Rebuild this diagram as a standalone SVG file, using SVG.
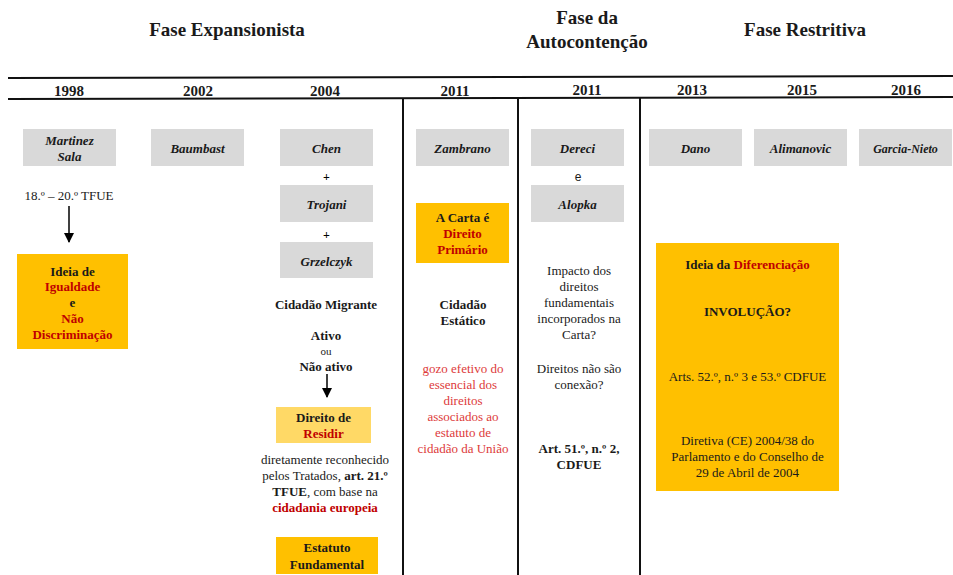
<svg xmlns="http://www.w3.org/2000/svg" width="953" height="575" viewBox="0 0 953 575">
<style>
text{font-family:"Liberation Serif","Times New Roman",serif;fill:#1a1a1a;text-anchor:middle}
.h{font-size:19px;font-weight:bold}
.y{font-size:15px;font-weight:bold}
.case{font-size:13px;font-weight:bold;font-style:italic}
.n{font-size:13px}
.b{font-size:13px;font-weight:bold}
.s{font-size:11px}
.p{font-size:12px;font-weight:bold;fill:#000}
.r{fill:#c00000}
.lr{fill:#dd3a3a}
.gray{fill:#d9d9d9}
.or{fill:#ffc000}
.lo{fill:#ffd966}
.ln{stroke:#111;stroke-width:2;fill:none}
</style>
<defs>
<marker id="ah" viewBox="0 0 10 10" refX="9" refY="5" markerWidth="10" markerHeight="10" markerUnits="userSpaceOnUse" orient="auto">
<path d="M0,0 L10,5 L0,10 z" fill="#000"/>
</marker>
</defs>
<rect width="953" height="575" fill="#fff"/>

<g id="headers">
<text class="h" x="227" y="36">Fase Expansionista</text>
<text class="h" x="587" y="24">Fase da</text>
<text class="h" x="587" y="48">Autocontenção</text>
<text class="h" x="805" y="36">Fase Restritiva</text>
</g>

<g id="connectors">
<line class="ln" x1="8" y1="78" x2="953" y2="76"/>
<line class="ln" x1="8" y1="99" x2="953" y2="97"/>
<line class="ln" x1="403" y1="98" x2="403" y2="575"/>
<line class="ln" x1="518" y1="98" x2="518" y2="575"/>
<line class="ln" x1="640" y1="97" x2="640" y2="575"/>
<line x1="69" y1="206" x2="69" y2="242" stroke="#000" stroke-width="1.5" marker-end="url(#ah)"/>
<line x1="327" y1="374" x2="327" y2="397" stroke="#000" stroke-width="1.5" marker-end="url(#ah)"/>
</g>

<g id="years">
<text class="y" x="69" y="96">1998</text>
<text class="y" x="198" y="96">2002</text>
<text class="y" x="325" y="96">2004</text>
<text class="y" x="455" y="96">2011</text>
<text class="y" x="587" y="95">2011</text>
<text class="y" x="692" y="95">2013</text>
<text class="y" x="802" y="95">2015</text>
<text class="y" x="906" y="95">2016</text>
</g>

<g id="martinez-sala">
<rect class="gray" x="23" y="129" width="93" height="37"/>
<text class="case" x="69.5" y="145">Martinez</text>
<text class="case" x="69.5" y="161">Sala</text>
</g>
<g id="tfue-18-20">
<text class="n" x="69" y="200">18.º – 20.º TFUE</text>
</g>
<g id="igualdade">
<rect class="or" x="17" y="254" width="111" height="95"/>
<text class="b" x="72.5" y="276">Ideia de</text>
<text class="b r" x="72.5" y="291">Igualdade</text>
<text class="b" x="72.5" y="307">e</text>
<text class="b r" x="72.5" y="323">Não</text>
<text class="b r" x="72.5" y="339">Discriminação</text>
</g>

<g id="baumbast">
<rect class="gray" x="151" y="129" width="93" height="37"/>
<text class="case" x="197.5" y="153">Baumbast</text>
</g>

<g id="chen">
<rect class="gray" x="280" y="129" width="93" height="37"/>
<text class="case" x="326.5" y="153">Chen</text>
</g>
<g id="plus1"><text class="p" x="326.5" y="181">+</text></g>
<g id="trojani">
<rect class="gray" x="280" y="185" width="93" height="37"/>
<text class="case" x="326.5" y="209">Trojani</text>
</g>
<g id="plus2"><text class="p" x="326.5" y="239">+</text></g>
<g id="grzelczyk">
<rect class="gray" x="280" y="242" width="93" height="36"/>
<text class="case" x="326.5" y="266">Grzelczyk</text>
</g>
<g id="cidadao-migrante">
<text class="b" x="326" y="309">Cidadão Migrante</text>
<text class="b" x="326" y="340">Ativo</text>
<text class="s" x="326" y="355">ou</text>
<text class="b" x="326" y="371">Não ativo</text>
</g>
<g id="direito-residir">
<rect class="lo" x="276" y="407" width="95" height="36"/>
<text class="b" x="323.5" y="422">Direito de</text>
<text class="b r" x="323.5" y="438">Residir</text>
</g>
<g id="diretamente">
<text class="n" x="325" y="464">diretamente reconhecido</text>
<text class="n" x="325" y="480">pelos Tratados, <tspan font-weight="bold">art. 21.º</tspan></text>
<text class="n" x="325" y="496"><tspan font-weight="bold">TFUE</tspan>, com base na</text>
<text class="b r" x="325" y="512">cidadania europeia</text>
</g>
<g id="estatuto-fundamental">
<rect class="or" x="276" y="537" width="102" height="37"/>
<text class="b" x="327" y="552">Estatuto</text>
<text class="b" x="327" y="569">Fundamental</text>
</g>

<g id="zambrano">
<rect class="gray" x="416" y="129" width="93" height="37"/>
<text class="case" x="462.5" y="153">Zambrano</text>
</g>
<g id="carta-direito-primario">
<rect class="or" x="416" y="203" width="93" height="60"/>
<text class="b" x="462.5" y="222">A Carta é</text>
<text class="b r" x="462.5" y="238">Direito</text>
<text class="b r" x="462.5" y="254">Primário</text>
</g>
<g id="cidadao-estatico">
<text class="b" x="463" y="309">Cidadão</text>
<text class="b" x="463" y="325">Estático</text>
</g>
<g id="gozo-efetivo">
<text class="n lr" x="463" y="373">gozo efetivo do</text>
<text class="n lr" x="463" y="389">essencial dos</text>
<text class="n lr" x="463" y="405">direitos</text>
<text class="n lr" x="463" y="421">associados ao</text>
<text class="n lr" x="463" y="437">estatuto de</text>
<text class="n lr" x="463" y="453">cidadão da União</text>
</g>

<g id="dereci">
<rect class="gray" x="531" y="129" width="93" height="37"/>
<text class="case" x="577.5" y="153">Dereci</text>
</g>
<g id="e-conj"><text style="font-family:'Liberation Sans',sans-serif;font-size:12px" x="578" y="181">e</text></g>
<g id="alopka">
<rect class="gray" x="531" y="185" width="93" height="37"/>
<text class="case" x="577.5" y="209">Alopka</text>
</g>
<g id="impacto">
<text class="n" x="579" y="275">Impacto dos</text>
<text class="n" x="579" y="291">direitos</text>
<text class="n" x="579" y="307">fundamentais</text>
<text class="n" x="579" y="323">incorporados na</text>
<text class="n" x="579" y="339">Carta?</text>
</g>
<g id="direitos-conexao">
<text class="n" x="579" y="373">Direitos não são</text>
<text class="n" x="579" y="389">conexão?</text>
</g>
<g id="art51">
<text class="b" x="579" y="453">Art. 51.º, n.º 2,</text>
<text class="b" x="579" y="469">CDFUE</text>
</g>

<g id="dano">
<rect class="gray" x="649" y="129" width="93" height="37"/>
<text class="case" x="695.5" y="153">Dano</text>
</g>
<g id="alimanovic">
<rect class="gray" x="754" y="129" width="93" height="37"/>
<text class="case" x="800.5" y="153">Alimanovic</text>
</g>
<g id="garcia-nieto">
<rect class="gray" x="859" y="129" width="93" height="37"/>
<text class="case" x="905.5" y="153" style="font-size:12px">Garcia-Nieto</text>
</g>

<g id="diferenciacao">
<rect class="or" x="656" y="243" width="183" height="248"/>
<text class="b" x="747.5" y="269">Ideia da <tspan class="r">Diferenciação</tspan></text>
<text class="b" x="747.5" y="316">INVOLUÇÃO?</text>
<text class="n" x="747.5" y="381">Arts. 52.º, n.º 3 e 53.º CDFUE</text>
<text class="n" x="747.5" y="445">Diretiva (CE) 2004/38 do</text>
<text class="n" x="747.5" y="461">Parlamento e do Conselho de</text>
<text class="n" x="747.5" y="477">29 de Abril de 2004</text>
</g>
</svg>
